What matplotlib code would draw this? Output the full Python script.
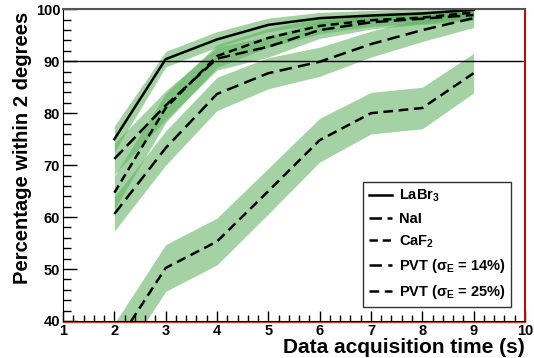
import numpy as np
import matplotlib
matplotlib.use("Agg")
import matplotlib.pyplot as plt
from matplotlib.ticker import MultipleLocator

plt.rcParams['font.family'] = ['Liberation Sans', 'DejaVu Sans']
plt.rcParams['font.weight'] = 'bold'
plt.rcParams['mathtext.fontset'] = 'custom'
plt.rcParams['mathtext.rm'] = 'Liberation Sans:bold'
plt.rcParams['mathtext.it'] = 'Liberation Sans:bold'
plt.rcParams['mathtext.bf'] = 'Liberation Sans:bold'
plt.rcParams['mathtext.default'] = 'rm'
plt.rcParams['lines.scale_dashes'] = False

# acquisition time (s)
t = [2, 3, 4, 5, 6, 7, 8, 9]

labr3 = [75.0, 90.4, 94.2, 97.0, 98.3, 98.8, 99.2, 99.9]
labr3_err = [2.5, 1.5, 1.5, 1.3, 1.1, 1.0, 0.9, 0.8]
nai = [71.2, 81.5, 90.5, 92.8, 96.0, 97.5, 98.2, 98.9]
nai_err = [3.0, 2.8, 2.2, 2.0, 1.6, 1.3, 1.1, 1.0]
caf2 = [64.7, 81.0, 91.0, 94.5, 96.8, 97.9, 98.4, 99.4]
caf2_err = [3.2, 2.8, 2.2, 1.8, 1.5, 1.2, 1.1, 1.0]
pvt14 = [60.6, 73.3, 83.7, 87.7, 89.9, 93.3, 96.0, 98.3]
pvt14_err = [3.3, 3.3, 3.2, 3.0, 2.8, 2.5, 2.2, 1.8]
pvt25 = [35.0, 50.2, 55.3, 65.0, 74.8, 80.0, 81.0, 87.7]
pvt25_err = [4.5, 4.5, 4.5, 4.4, 4.2, 4.0, 4.0, 3.8]

labels = ['LaBr$_{3}$', 'NaI', 'CaF$_{2}$',
          'PVT (σ$_{E}$ = 14%)', 'PVT (σ$_{E}$ = 25%)']
series = [labr3, nai, caf2, pvt14, pvt25]
errs = [labr3_err, nai_err, caf2_err, pvt14_err, pvt25_err]
styles = ['-', (0, (9, 4)), (0, (6, 3.5)), (0, (9, 4.5)), (0, (7, 4))]

fig = plt.figure(figsize=(5.34, 3.58), dpi=100)
ax = fig.add_axes([0.118, 0.1034, 0.865, 0.8706])

tt = np.array(t)
for y, e in zip(series, errs):
    y = np.array(y); e = np.array(e)
    ax.fill_between(tt, y - e, y + e, color='#62b262', alpha=0.58, lw=0)

handles = []
for y, ls, lab in zip(series, styles, labels):
    h, = ax.plot(t, y, color='black', lw=1.8, linestyle=ls, label=lab)
    handles.append(h)

ax.axhline(90, color='black', lw=1)

ax.set_xlim(1, 10)
ax.set_ylim(40, 100)
ax.xaxis.set_major_locator(MultipleLocator(1))
ax.xaxis.set_minor_locator(MultipleLocator(0.2))
ax.yaxis.set_major_locator(MultipleLocator(10))
ax.yaxis.set_minor_locator(MultipleLocator(2))
ax.tick_params(which='both', direction='in', top=False, right=False)
ax.tick_params(axis='y', which='major', length=10, width=1, pad=2, labelsize=10.5)
ax.tick_params(axis='y', which='minor', length=6, width=1)
ax.tick_params(axis='x', which='major', length=7, width=1, pad=2, labelsize=10.5)
ax.tick_params(axis='x', which='minor', length=4, width=1)
for lab in ax.get_xticklabels() + ax.get_yticklabels():
    lab.set_fontweight('bold')

ax.spines['top'].set_color('#555555')
ax.spines['top'].set_linewidth(1.5)
ax.spines['right'].set_color('#b01010')
ax.spines['right'].set_linewidth(1.5)
ax.spines['left'].set_color('black')
ax.spines['bottom'].set_color('black')
ax.plot([0, 1], [-0.004, -0.004], transform=ax.transAxes, color='#d04040',
        lw=1, clip_on=False)

ax.set_ylabel('Percentage within 2 degrees', fontsize=14.5, fontweight='bold')
ax.yaxis.set_label_coords(-0.068, 0.555)
ax.set_xlabel('Data acquisition time (s)', fontsize=15, fontweight='bold',
              loc='right', labelpad=0)

leg = ax.legend(handles=handles, loc='upper left', bbox_to_anchor=(0.68, 0.492),
                bbox_transform=fig.transFigure, borderaxespad=0,
                fontsize=10.5, frameon=True, fancybox=False, handlelength=1.6,
                labelspacing=0.52, borderpad=0.4, handletextpad=0.45)
leg.get_frame().set_edgecolor('black')
leg.get_frame().set_linewidth(1)
for txt in leg.get_texts():
    txt.set_fontweight('bold')

fig.savefig('out.png', dpi=100)
